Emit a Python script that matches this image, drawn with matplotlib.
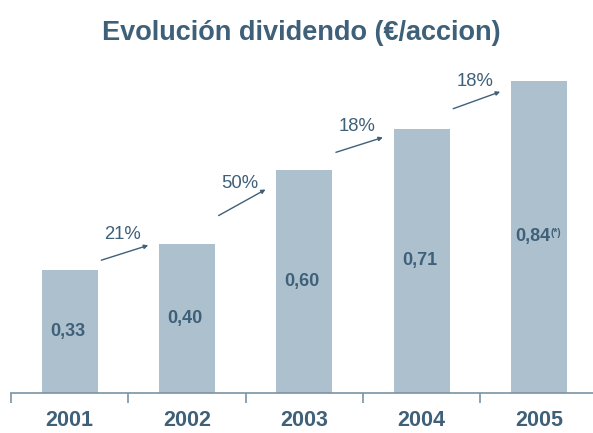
import numpy as np
import matplotlib.pyplot as plt

# datos
anios = ["2001", "2002", "2003", "2004", "2005"]
dividendo = [0.33, 0.40, 0.60, 0.71, 0.84]
etiquetas_valor = ["0,33", "0,40", "0,60", "0,71", "0,84"]
crecimiento = ["21%", "50%", "18%", "18%"]

azul_barra = "#adc0ce"
azul_texto = "#3f6079"
azul_eje = "#7a93a6"

plt.rcParams['font.family'] = ['Liberation Sans', 'DejaVu Sans']

fig = plt.figure(figsize=(5.93, 4.33), dpi=100)
ax = fig.add_axes([11 / 593, 40 / 433, 586.5 / 593, 372 / 433])

x = np.arange(len(anios))
ax.bar(x, dividendo, width=0.477, color=azul_barra, zorder=2)

ax.set_xlim(-0.5, len(anios) - 0.5)
ax.set_ylim(0, 1)

# eje: solo la linea de abajo, con marcas entre categorias
for s in ["top", "left", "right"]:
    ax.spines[s].set_visible(False)
ax.spines["bottom"].set_color(azul_eje)
ax.spines["bottom"].set_linewidth(1.2)
ax.set_yticks([])
ax.set_xticks(x)
ax.set_xticklabels(anios, fontsize=15.5, fontweight="bold", color=azul_texto)
ax.tick_params(axis="x", which="major", length=0, pad=12)
ax.set_xticks(np.arange(-0.5, len(anios)), minor=True)
ax.tick_params(axis="x", which="minor", length=7, width=1.2, color=azul_eje, direction="out")

# valores dentro de las barras
for i, (v, lab) in enumerate(zip(dividendo, etiquetas_valor)):
    dx = -4 if i == len(dividendo) - 1 else -1.5
    t = ax.annotate(lab, xy=(i, v / 2), xytext=(dx, 0), textcoords="offset points",
                    ha="center", va="center", fontsize=13, fontweight="bold",
                    color=azul_texto, zorder=3)
    if i == len(dividendo) - 1:
        ax.annotate("(*)", xy=(1, 1), xycoords=t, ha="left", va="top",
                    fontsize=7, fontweight="bold", color=azul_texto)

# flechas de crecimiento entre barras
for i, lab in enumerate(crecimiento):
    v0, v1 = dividendo[i], dividendo[i + 1]
    medio = (v0 + v1) / 2 + 0.012
    subida = max(0.04, 0.35 * (v1 - v0))
    x0, x1 = i + 0.27, i + 0.67
    ax.annotate("", xy=(x1, medio + subida / 2), xytext=(x0, medio - subida / 2),
                arrowprops=dict(arrowstyle="-|>", color=azul_texto, lw=1,
                                mutation_scale=6, shrinkA=0, shrinkB=0))
    ax.annotate(lab, xy=((x0 + x1) / 2, medio), xytext=(-1.5, 13.5),
                textcoords="offset points", ha="center", va="center",
                fontsize=13.3, color=azul_texto)

fig.text(0.508, 1 - 33 / 433, "Evolución dividendo (€/accion)", ha="center", va="center",
         fontsize=19.5, fontweight="bold", color=azul_texto)

fig.savefig("out.png", dpi=100)
